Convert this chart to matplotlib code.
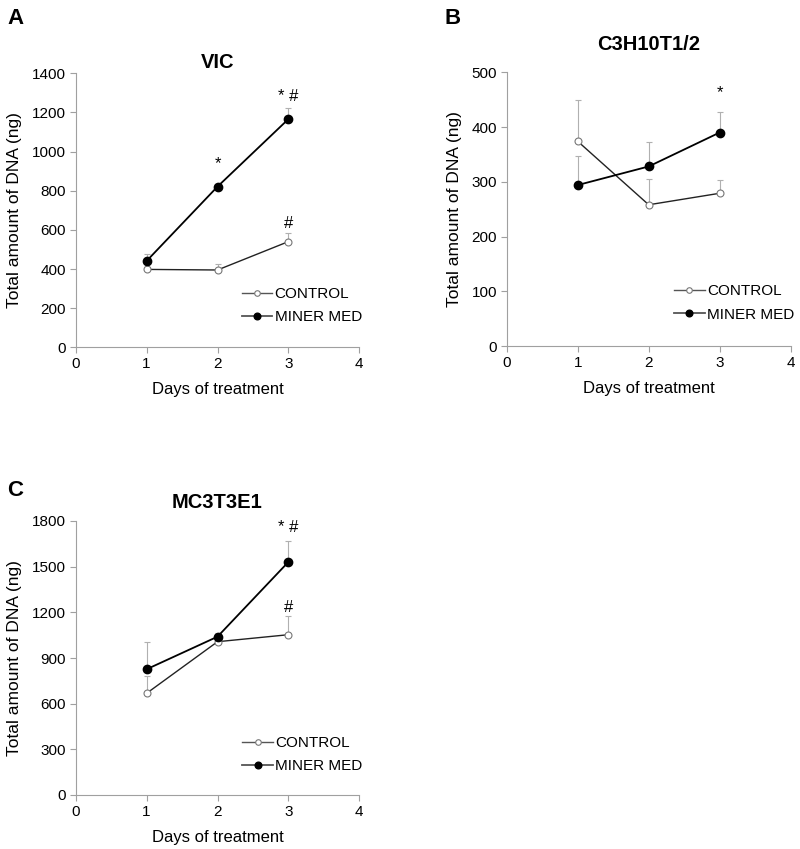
import matplotlib
matplotlib.use("Agg")
import matplotlib.pyplot as plt

plt.rcParams['font.family'] = ['Liberation Sans', 'DejaVu Sans']

days = [1, 2, 3]

# Panel A: VIC
vic_ctrl = [398, 395, 540]
vic_ctrl_err = [10, 30, 42]
vic_med = [441, 821, 1166]
vic_med_err = [36, 10, 55]

# Panel B: C3H10T1/2
c3h_ctrl = [374, 258, 279]
c3h_ctrl_err = [75, 47, 24]
c3h_med = [294, 328, 390]
c3h_med_err = [54, 44, 37]

# Panel C: MC3T3E1
mc3_ctrl = [668, 1007, 1053]
mc3_ctrl_err = [114, 20, 123]
mc3_med = [826, 1040, 1531]
mc3_med_err = [177, 25, 136]

titles = ["VIC", "C3H10T1/2", "MC3T3E1"]
letters = ["A", "B", "C"]
ylims = [(0, 1400, 200), (0, 500, 100), (0, 1800, 300)]

# annotations: (x, y, text)
annots = [
    [(2, 940, "*"), (3, 1280, "* #"), (3, 630, "#")],
    [(3, 462, "*")],
    [(3, 1760, "* #"), (3, 1235, "#")],
]

W, H = 800, 849
fig = plt.figure(figsize=(W / 100, H / 100), dpi=100)

def rect(l, r, t, b):
    return [l / W, 1 - b / H, (r - l) / W, (b - t) / H]

axes_px = [(75.7, 359.3, 73.3, 347.3), (506.7, 790.7, 72.3, 346.0), (75.7, 359.3, 521.0, 795.0)]
data = [
    (vic_ctrl, vic_ctrl_err, vic_med, vic_med_err),
    (c3h_ctrl, c3h_ctrl_err, c3h_med, c3h_med_err),
    (mc3_ctrl, mc3_ctrl_err, mc3_med, mc3_med_err),
]
title_y = [62, 45, 503]
letter_pos = [(7, 18), (444, 18), (7, 490)]
legend_anchor = [(0.586, 0.1526), (0.589, 0.157), (0.588, 0.148)]

for i in range(3):
    ax = fig.add_axes(rect(*axes_px[i]))
    ctrl, ctrl_err, med, med_err = data[i]
    ax.errorbar(days, ctrl, yerr=[[0] * 3, ctrl_err], fmt='none', ecolor='#b0b0b0',
                elinewidth=0.8, capsize=2.5, capthick=0.8, zorder=1)
    ax.errorbar(days, med, yerr=[[0] * 3, med_err], fmt='none', ecolor='#b0b0b0',
                elinewidth=0.8, capsize=2.5, capthick=0.8, zorder=1)
    ax.plot(days, ctrl, '-o', color='#222222', lw=1.0, markersize=5,
            markerfacecolor='white', markeredgecolor='#777777', markeredgewidth=0.8,
            label='CONTROL', zorder=3)
    ax.plot(days, med, '-o', color='black', lw=1.3, markersize=6,
            markerfacecolor='black', markeredgecolor='black', label='MINER MED', zorder=4)
    lo, hi, st = ylims[i]
    ax.set_ylim(lo, hi)
    ax.set_yticks(range(lo, hi + 1, st))
    ax.set_xlim(0, 4)
    ax.set_xticks([0, 1, 2, 3, 4])
    for s in ['top', 'right']:
        ax.spines[s].set_visible(False)
    for s in ['left', 'bottom']:
        ax.spines[s].set_color('#a0a0a0')
        ax.spines[s].set_linewidth(0.8)
    ax.tick_params(direction='out', length=4, width=0.8, color='#a0a0a0',
                   labelsize=11, pad=3)
    ax.set_xlabel('Days of treatment', fontsize=12, labelpad=8)
    ax.set_ylabel('Total amount of DNA (ng)', fontsize=12.5, labelpad=7)
    leg = ax.legend(loc='center left', bbox_to_anchor=legend_anchor[i], frameon=False,
                    fontsize=11, handlelength=2.0, handletextpad=0.15,
                    labelspacing=0.6, borderpad=0, borderaxespad=0, markerscale=0.8)
    for ln in leg.get_lines():
        ln.set_color('#555555')
    for (x, y, t) in annots[i]:
        ax.text(x, y, t, ha='center', va='center', fontsize=12)
    l, r, t, b = axes_px[i]
    fig.text(((l + r) / 2) / W, 1 - title_y[i] / H, titles[i], ha='center', va='center',
             fontsize=14.5, fontweight='bold')
    fig.text(letter_pos[i][0] / W, 1 - letter_pos[i][1] / H, letters[i], ha='left',
             va='center', fontsize=16, fontweight='bold')

fig.savefig('out.png', dpi=100)
